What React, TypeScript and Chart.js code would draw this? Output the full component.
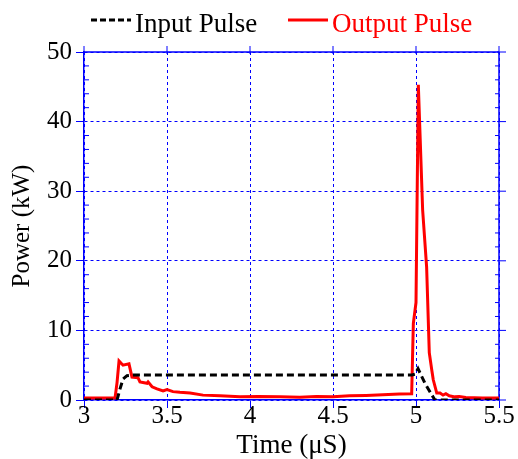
import React, { useEffect, useRef } from 'react';
import { Chart, registerables } from 'chart.js';

Chart.register(...registerables);

// ---- Data ----
const inputTime = [3.0, 3.199, 3.217, 3.235, 3.259, 3.3, 3.6, 4.0, 4.5, 4.975, 4.994, 5.012, 5.054, 5.096, 5.114, 5.3, 5.5];
const inputPower = [0, 0, 1.6, 3.0, 3.5, 3.6, 3.6, 3.6, 3.6, 3.6, 3.7, 4.5, 2.4, 0.7, 0, 0, 0];

const outputTime = [
  3.0, 3.187, 3.199, 3.211, 3.235, 3.271, 3.289, 3.325, 3.337, 3.38, 3.386, 3.41, 3.44, 3.476, 3.5,
  3.536, 3.578, 3.639, 3.717, 3.819, 3.94, 4.05, 4.181, 4.3, 4.4, 4.5, 4.6, 4.7, 4.8, 4.9, 4.974,
  4.984, 5.0, 5.014, 5.04, 5.064, 5.08, 5.095, 5.104, 5.125, 5.145, 5.163, 5.18, 5.2, 5.235, 5.26,
  5.3, 5.4, 5.5,
];
const outputPower = [
  0.3, 0.3, 2.5, 5.6, 5.0, 5.2, 3.3, 3.2, 2.6, 2.4, 2.6, 1.9, 1.6, 1.3, 1.5,
  1.2, 1.1, 1.0, 0.7, 0.6, 0.45, 0.5, 0.45, 0.4, 0.5, 0.45, 0.6, 0.65, 0.75, 0.85, 0.9,
  11, 14, 45.3, 27.3, 19.1, 6.8, 4.3, 2.9, 1.0, 1.0, 0.7, 0.9, 0.6, 0.45, 0.5,
  0.35, 0.3, 0.3,
];

const xTicks = [3, 3.5, 4, 4.5, 5, 5.5];
const yTicks = [0, 10, 20, 30, 40, 50];
const yMinorTicks = [2, 4, 6, 8, 12, 14, 16, 18, 22, 24, 26, 28, 32, 34, 36, 38, 42, 44, 46, 48];
const seriesNames = ['Input Pulse', 'Output Pulse'];
const xTitle = 'Time (μS)';
const yTitle = 'Power (kW)';

const BLUE = '#0000ff';
const RED = '#ff0000';
const FONT = '"Liberation Serif", "Times New Roman", serif';

const framePlugin = {
  id: 'frame',
  beforeDatasetsDraw(chart: any) {
    const { ctx, chartArea, scales } = chart;
    const { left, right, top, bottom } = chartArea;
    ctx.save();
    ctx.strokeStyle = BLUE;
    ctx.setLineDash([]);
    ctx.lineWidth = 1.5;
    ctx.beginPath();
    ctx.moveTo(left, top);
    ctx.lineTo(right, top);
    ctx.moveTo(right, top);
    ctx.lineTo(right, bottom);
    ctx.stroke();
    ctx.lineWidth = 1;
    ctx.beginPath();
    // top major ticks
    xTicks.forEach((v) => {
      const x = scales.x.getPixelForValue(v);
      ctx.moveTo(x, top - 6);
      ctx.lineTo(x, top + 2);
    });
    // right major ticks
    yTicks.forEach((v) => {
      const y = scales.y.getPixelForValue(v);
      ctx.moveTo(right - 2, y);
      ctx.lineTo(right + 7, y);
    });
    // minor y ticks on both sides
    yMinorTicks.forEach((v) => {
      const y = scales.y.getPixelForValue(v);
      ctx.moveTo(left, y);
      ctx.lineTo(left + 5, y);
      ctx.moveTo(right, y);
      ctx.lineTo(right - 4, y);
    });
    ctx.stroke();
    ctx.restore();
  },
};

const legendPlugin = {
  id: 'customLegend',
  afterDraw(chart: any) {
    const { ctx } = chart;
    const items = [
      { text: seriesNames[0], color: '#000000', dash: [6, 3], x: 91 },
      { text: seriesNames[1], color: RED, dash: [], x: 288 },
    ];
    ctx.save();
    ctx.font = `27px ${FONT}`;
    ctx.textBaseline = 'alphabetic';
    ctx.textAlign = 'left';
    items.forEach((it) => {
      ctx.strokeStyle = it.color;
      ctx.lineWidth = 3;
      ctx.setLineDash(it.dash);
      ctx.beginPath();
      ctx.moveTo(it.x, 20);
      ctx.lineTo(it.x + 40, 20);
      ctx.stroke();
      ctx.fillStyle = it.color;
      ctx.fillText(it.text, it.x + 44, 32);
    });
    ctx.restore();
  },
};

export default function App() {
  const canvasRef = useRef<HTMLCanvasElement | null>(null);

  useEffect(() => {
    if (!canvasRef.current) return;
    const chart = new Chart(canvasRef.current, {
      type: 'scatter',
      data: {
        datasets: [
          {
            label: seriesNames[0],
            data: inputTime.map((t, i) => ({ x: t, y: inputPower[i] })),
            showLine: true,
            borderColor: '#000000',
            borderWidth: 3,
            borderDash: [7, 4],
            pointRadius: 0,
            tension: 0,
          },
          {
            label: seriesNames[1],
            data: outputTime.map((t, i) => ({ x: t, y: outputPower[i] })),
            showLine: true,
            borderColor: RED,
            borderWidth: 3,
            pointRadius: 0,
            tension: 0,
          },
        ],
      },
      options: {
        animation: false,
        responsive: false,
        layout: { padding: { top: 52, right: 19, left: 0, bottom: 0 } },
        plugins: {
          legend: { display: false },
          tooltip: { enabled: false },
        },
        scales: {
          x: {
            type: 'linear',
            min: 3,
            max: 5.5,
            afterBuildTicks: (scale: any) => {
              scale.ticks = xTicks.map((v) => ({ value: v }));
            },
            afterFit: (scale: any) => {
              scale.height = 59;
            },
            ticks: {
              color: '#000000',
              font: { family: FONT, size: 25, lineHeight: 1 },
              padding: -4,
              maxRotation: 0,
              callback: (v: any) => String(v),
            },
            grid: {
              color: BLUE,
              lineWidth: 1,
              drawTicks: true,
              tickLength: 8,
              tickColor: BLUE,
              tickWidth: 1,
              tickBorderDash: [],
            },
            border: { color: BLUE, width: 1.5, dash: [3, 3] },
            title: {
              display: true,
              text: xTitle,
              color: '#000000',
              font: { family: FONT, size: 27, lineHeight: 1 },
              padding: { top: 0, bottom: 0 },
            },
          },
          y: {
            type: 'linear',
            min: 0,
            max: 50,
            afterBuildTicks: (scale: any) => {
              scale.ticks = yTicks.map((v) => ({ value: v }));
            },
            afterFit: (scale: any) => {
              scale.width = 84;
            },
            ticks: {
              color: '#000000',
              font: { family: FONT, size: 25, lineHeight: 1 },
              padding: 4,
              callback: (v: any) => String(v),
            },
            grid: {
              color: BLUE,
              lineWidth: 1,
              drawTicks: true,
              tickLength: 8,
              tickColor: BLUE,
              tickWidth: 1,
              tickBorderDash: [],
            },
            border: { color: BLUE, width: 1.5, dash: [3, 3] },
            title: {
              display: true,
              text: yTitle,
              color: '#000000',
              font: { family: FONT, size: 25, lineHeight: 1 },
              padding: { top: 10, bottom: 0 },
            },
          },
        },
      },
      plugins: [framePlugin, legendPlugin],
    } as any);
    return () => chart.destroy();
  }, []);

  return (
    <div style={{ position: 'fixed', left: 0, top: 0, width: 518, height: 459, background: '#ffffff' }}>
      <canvas ref={canvasRef} width={518} height={459} style={{ display: 'block' }} />
    </div>
  );
}
